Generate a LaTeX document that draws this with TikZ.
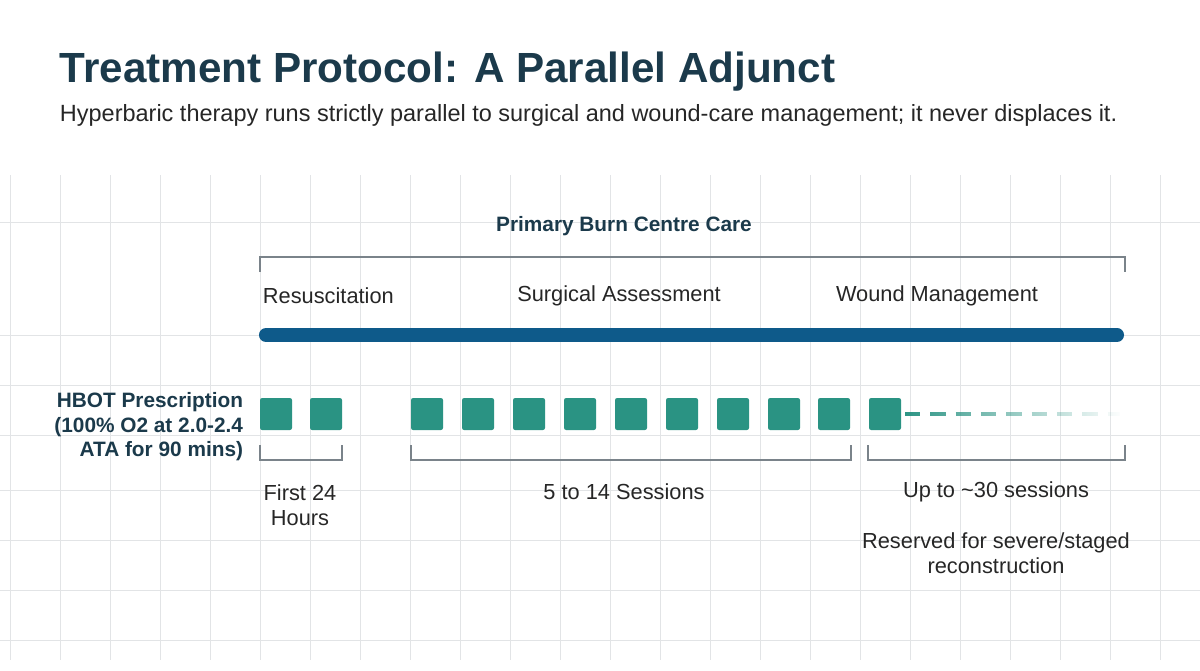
\documentclass[tikz,border=0pt]{standalone}
\usepackage{fontspec}
\setmainfont{Liberation Sans}
\usetikzlibrary{positioning,fadings}
\definecolor{navy}{HTML}{1B3A4B}
\definecolor{barblue}{HTML}{0E5A8A}
\definecolor{teal}{HTML}{2A9383}
\definecolor{gridgray}{HTML}{E2E4E6}
\definecolor{brk}{HTML}{7A838A}
\tikzset{
  sess/.style={fill=teal,rounded corners=1.5pt},
  lbl/.style={font=\fontsize{15.5}{18}\selectfont,text=black!85,align=center},
  brace/.style={brk,line width=1.2pt}
}
\begin{document}
\begin{tikzpicture}[x=0.025cm,y=-0.025cm]
\useasboundingbox (0,0) rectangle (1200,670);
% grid
\foreach \x in {10,60,110,160,210,260,310,360,410,460,510,560,610,660,710,760,810,860,910,960,1010,1060,1110,1160}
  \draw [gridgray] (\x,175) -- (\x,660);
\foreach \y in {222,335,385,435,490,540,590,640}
  \draw [gridgray] (0,\y) -- (1200,\y);

\node (title) at (55,72) [anchor=west,text=navy,font=\bfseries\fontsize{30}{34}\selectfont] {Treatment Protocol: A Parallel Adjunct};
\node (subtitle) at (55,115) [anchor=west,text=black!85,font=\fontsize{16.7}{19}\selectfont] {Hyperbaric therapy runs strictly parallel to surgical and wound-care management; it never displaces it.};

\node (primary) at (624,226) [text=navy,font=\bfseries\fontsize{14.8}{17}\selectfont] {Primary Burn Centre Care};
\draw [brace] (260,272) -- (260,257) -- (1125,257) -- (1125,272);
\node (resus) at (258,296) [lbl,anchor=west] {Resuscitation};
\node (surg) at (619,296) [lbl] {Surgical Assessment};
\node (wound) at (937,296) [lbl] {Wound Management};
\draw [barblue,line width=10pt,line cap=round] (266,335) -- (1117,335);

\node (hbot) at (248,427) [lbl,anchor=east,font=\bfseries\fontsize{14.8}{17.5}\selectfont,text=navy,align=right] {HBOT Prescription\\(100\% O2 at 2.0-2.4\\ATA for 90 mins)};
\foreach \x [count=\i] in {260,310,411,462,513,564,615,666,717,768,818,869}
  \fill [sess] (\x,398) rectangle ++(32,32) coordinate (s\i);
\path [draw=teal,line width=3.5pt,dash pattern=on 11pt off 7pt,path fading=east] (905,414) -- (1120,414);

\draw [brace] (260,445) -- (260,460) -- (342,460) -- (342,445);
\draw [brace] (411,445) -- (411,460) -- (851,460) -- (851,445);
\draw [brace] (868,445) -- (868,460) -- (1125,460) -- (1125,445);
\node (first) at (300,505) [lbl] {First 24\\Hours};
\node (five) at (624,492) [lbl] {5 to 14 Sessions};
\node (upto) at (996,492) [lbl] {Up to \textasciitilde30 sessions};
\node (reserved) at (996,553) [lbl] {Reserved for severe/staged\\reconstruction};
\end{tikzpicture}
\end{document}
